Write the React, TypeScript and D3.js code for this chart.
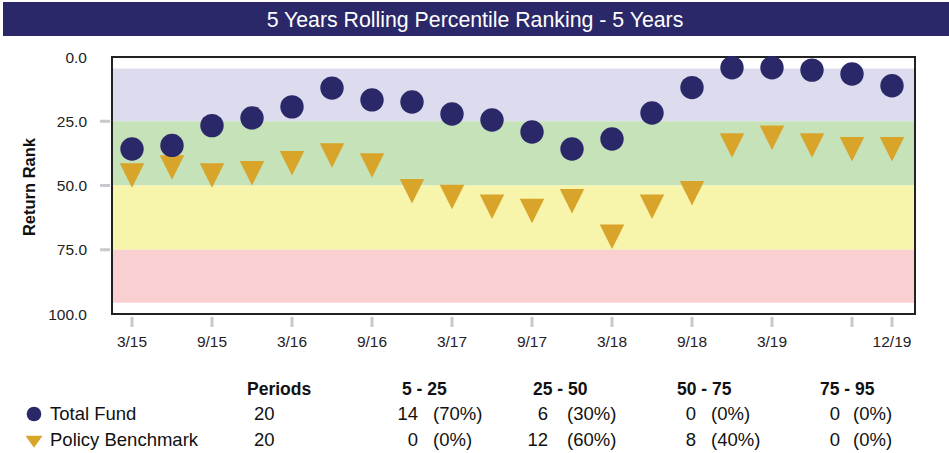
import React from "react";
import * as d3 from "d3";

const quarters = [
  "3/15", "6/15", "9/15", "12/15", "3/16", "6/16", "9/16", "12/16",
  "3/17", "6/17", "9/17", "12/17", "3/18", "6/18", "9/18", "12/18",
  "3/19", "6/19", "9/19", "12/19",
];
const totalFund = [
  35.8, 34.4, 26.7, 23.7, 19.4, 12.1, 16.7, 17.5, 22.2, 24.5,
  29.2, 35.8, 31.9, 21.8, 11.9, 4.2, 4.2, 5.1, 6.6, 11.2,
];
const policyBenchmark = [
  46.1, 43.0, 46.1, 45.2, 41.3, 38.3, 42.2, 52.2, 54.5, 58.3,
  59.9, 56.1, 69.9, 58.3, 53.0, 34.4, 31.4, 34.4, 35.9, 35.9,
];
const tickQuarters = ["3/15", "9/15", "3/16", "9/16", "3/17", "9/17", "3/18", "9/18", "3/19", "9/19", "12/19"];
const tickLabels = ["3/15", "9/15", "3/16", "9/16", "3/17", "9/17", "3/18", "9/18", "3/19", "", "12/19"];
const yTicks = [25, 50, 75];
const yLabelValues = [0, 25, 50, 75, 100];
const bandBounds = [4.5, 25, 50, 75, 95.6];
const bandColors = ["#dcdcee", "#c6e2b8", "#f7f4ab", "#facfd2"];

const tableHeaders = ["Periods", "5 - 25", "25 - 50", "50 - 75", "75 - 95"];
const seriesNames = ["Total Fund", "Policy Benchmark"];
const periods = [20, 20];
const counts = [
  [14, 6, 0, 0],
  [0, 12, 8, 0],
];
const percents = [
  ["(70%)", "(30%)", "(0%)", "(0%)"],
  ["(0%)", "(60%)", "(40%)", "(0%)"],
];

const NAVY = "#2b2869";
const GOLD = "#d9a42a";

export default function App() {
  const W = 949, H = 453;
  const frame = { left: 112, right: 915, top: 57, bottom: 314 };
  const x = d3.scalePoint<string>().domain(quarters).range([132, 892]);
  const y = d3.scaleLinear().domain([0, 100]).range([frame.top, frame.bottom]);
  const tri = (cx: number, cy: number, w: number, h: number) =>
    `M${cx - w / 2},${cy - h / 2}L${cx + w / 2},${cy - h / 2}L${cx},${cy + h / 2}Z`;

  const font = "'Liberation Sans', Arial, Helvetica, sans-serif";
  const headerX = [247, 402, 533, 677, 820];
  const countRight = [418, 548, 696, 840];
  const pctLeft = [433, 567, 711, 853];
  const rowY = [420, 446];

  return (
    <svg width={W} height={H} style={{ position: "absolute", left: 0, top: 0 }} fontFamily={font}>
      <rect x={0} y={0} width={W} height={H} fill="#fff" />
      <rect x={3} y={2} width={946} height={34} fill={NAVY} />
      <text x={475} y={19} dy="0.36em" textAnchor="middle" fill="#fff" fontSize={21.3}>
        5 Years Rolling Percentile Ranking - 5 Years
      </text>

      {bandColors.map((c, i) => (
        <rect key={i} x={frame.left} y={y(bandBounds[i])} width={frame.right - frame.left}
          height={y(bandBounds[i + 1]) - y(bandBounds[i])} fill={c} />
      ))}
      <rect x={frame.left} y={frame.top} width={frame.right - frame.left} height={frame.bottom - frame.top}
        fill="none" stroke="#222" strokeWidth={2} />

      {yTicks.map((t) => (
        <line key={t} x1={100} x2={110} y1={y(t)} y2={y(t)} stroke="#c8c8ce" strokeWidth={3} />
      ))}
      {yLabelValues.map((t) => (
        <text key={t} x={87} y={y(t)} dy="0.36em" textAnchor="end" fontSize={15.5} fill="#222">
          {t.toFixed(1)}
        </text>
      ))}
      <text transform={`translate(35,187) rotate(-90)`} textAnchor="middle" fontSize={16.5} fontWeight="bold" fill="#111">
        Return Rank
      </text>

      {tickQuarters.map((q, i) => (
        <g key={q}>
          <line x1={x(q)!} x2={x(q)!} y1={317} y2={327} stroke="#c8c8ce" strokeWidth={3} />
          <text x={x(q)!} y={347} textAnchor="middle" fontSize={15.5} fill="#222">{tickLabels[i]}</text>
        </g>
      ))}

      {policyBenchmark.map((v, i) => (
        <path key={"p" + i} d={tri(x(quarters[i])!, y(v), 24.5, 24.5)} fill={GOLD} />
      ))}
      {totalFund.map((v, i) => (
        <circle key={"c" + i} cx={x(quarters[i])!} cy={y(v)} r={11.7} fill={NAVY} />
      ))}

      {tableHeaders.map((h, i) => (
        <text key={h} x={headerX[i]} y={395} fontSize={17.5} fontWeight="bold" fill="#111">{h}</text>
      ))}
      {seriesNames.map((n, r) => (
        <g key={n}>
          {r === 0 ? (
            <circle cx={34} cy={414} r={7.3} fill={NAVY} />
          ) : (
            <path d={tri(34, 441.7, 17, 12)} fill={GOLD} />
          )}
          <text x={50} y={rowY[r]} fontSize={18.5} fill="#111">{n}</text>
          <text x={254} y={rowY[r]} fontSize={18.5} fill="#111">{periods[r]}</text>
          {counts[r].map((c, j) => (
            <g key={j}>
              <text x={countRight[j]} y={rowY[r]} textAnchor="end" fontSize={18.5} fill="#111">{c}</text>
              <text x={pctLeft[j]} y={rowY[r]} fontSize={18.5} fill="#111">{percents[r][j]}</text>
            </g>
          ))}
        </g>
      ))}
    </svg>
  );
}
